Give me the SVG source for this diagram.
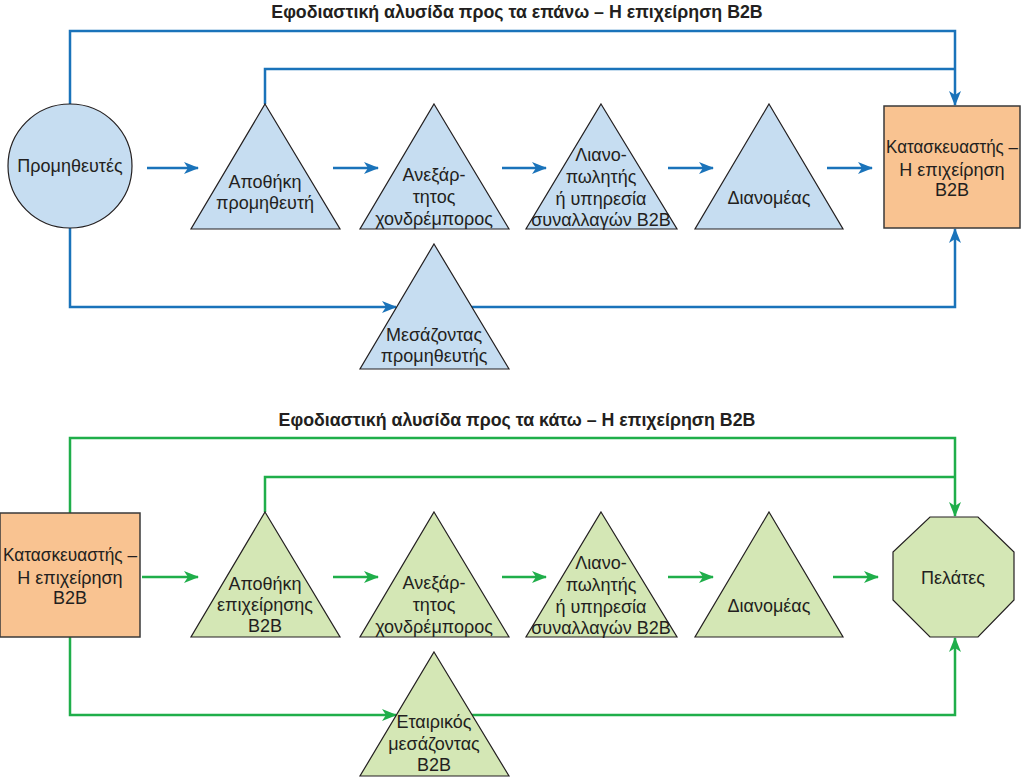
<svg xmlns="http://www.w3.org/2000/svg" width="1024" height="779" viewBox="0 0 1024 779">
<defs>
<style>
text{font-family:"Liberation Sans",Arial,sans-serif;font-size:18px;fill:#231f20;text-anchor:middle}
.title{font-weight:bold;font-size:17.8px}
.bshape{fill:#c6ddf1;stroke:#231f20;stroke-width:1.2}
.gshape{fill:#d4e7b5;stroke:#231f20;stroke-width:1.2}
.oshape{fill:#f9c391;stroke:#3a3a3a;stroke-width:1.5}
.bl{fill:none;stroke:#1a73ba;stroke-width:2.5}
.gl{fill:none;stroke:#1fae4a;stroke-width:2.5}
</style>
<marker id="ab" markerUnits="userSpaceOnUse" markerWidth="16" markerHeight="12" refX="14" refY="6" orient="auto">
<path d="M0,0 L15,6 L0,12 L4,6 z" fill="#1a73ba"/>
</marker>
<marker id="ag" markerUnits="userSpaceOnUse" markerWidth="16" markerHeight="12" refX="14" refY="6" orient="auto">
<path d="M0,0 L15,6 L0,12 L4,6 z" fill="#1fae4a"/>
</marker>
</defs>
<rect width="1024" height="779" fill="#ffffff"/>

<text class="title" x="517" y="18">Εφοδιαστική αλυσίδα προς τα επάνω – Η επιχείρηση B2B</text>
<text class="title" x="517" y="426">Εφοδιαστική αλυσίδα προς τα κάτω – Η επιχείρηση B2B</text>

<g id="connectors">
<path class="bl" d="M70,104 V31 H955 V105" marker-end="url(#ab)"/>
<path class="bl" d="M265,104 V69 H955"/>
<path class="bl" d="M70,228 V307 H396" marker-end="url(#ab)"/>
<path class="bl" d="M471,307 H955 V229" marker-end="url(#ab)"/>
<path class="bl" d="M147,168 H198" marker-end="url(#ab)"/>
<path class="bl" d="M333,168 H378" marker-end="url(#ab)"/>
<path class="bl" d="M502,168 H546" marker-end="url(#ab)"/>
<path class="bl" d="M668,168 H713" marker-end="url(#ab)"/>
<path class="bl" d="M827,168 H872" marker-end="url(#ab)"/>

<path class="gl" d="M70,513 V438 H955 V516" marker-end="url(#ag)"/>
<path class="gl" d="M265,512 V477 H955"/>
<path class="gl" d="M70,637 V715 H396" marker-end="url(#ag)"/>
<path class="gl" d="M472,715 H955 V638" marker-end="url(#ag)"/>
<path class="gl" d="M142,577 H198" marker-end="url(#ag)"/>
<path class="gl" d="M333,577 H378" marker-end="url(#ag)"/>
<path class="gl" d="M502,577 H546" marker-end="url(#ag)"/>
<path class="gl" d="M668,577 H713" marker-end="url(#ag)"/>
<path class="gl" d="M833,577 H878" marker-end="url(#ag)"/>
</g>

<g id="supplier">
<circle class="bshape" cx="70" cy="166" r="62"/>
<text x="70" y="172">Προμηθευτές</text>
</g>
<g id="supplier-warehouse">
<polygon class="bshape" points="265,104 340,229 191,229"/>
<text x="265" y="188">Αποθήκη</text>
<text x="265" y="209">προμηθευτή</text>
</g>
<g id="wholesaler-top">
<polygon class="bshape" points="434,104 509,229 360,229"/>
<text x="434" y="181">Ανεξάρ-</text>
<text x="434" y="203">τητος</text>
<text x="434" y="225">χονδρέμπορος</text>
</g>
<g id="retailer-top">
<polygon class="bshape" points="601,104 677,229 526,229"/>
<text x="601" y="161">Λιανο-</text>
<text x="601" y="183">πωλητής</text>
<text x="601" y="205">ή υπηρεσία</text>
<text x="601" y="226">συναλλαγών B2B</text>
</g>
<g id="distributor-top">
<polygon class="bshape" points="769,104 843,229 695,229"/>
<text x="769" y="204">Διανομέας</text>
</g>
<g id="manufacturer-top">
<rect class="oshape" x="884" y="106" width="136" height="122"/>
<text x="952" y="153" textLength="132" lengthAdjust="spacingAndGlyphs">Κατασκευαστής –</text>
<text x="952" y="176">Η επιχείρηση</text>
<text x="952" y="196">B2B</text>
</g>
<g id="supplier-broker">
<polygon class="bshape" points="434,244 509,369 360,369"/>
<text x="434" y="341">Μεσάζοντας</text>
<text x="434" y="362">προμηθευτής</text>
</g>

<g id="manufacturer-bottom">
<rect class="oshape" x="0" y="513" width="140" height="124"/>
<text x="70" y="561" textLength="134" lengthAdjust="spacingAndGlyphs">Κατασκευαστής –</text>
<text x="70" y="584">Η επιχείρηση</text>
<text x="70" y="604">B2B</text>
</g>
<g id="b2b-warehouse">
<polygon class="gshape" points="265,512 340,637 191,637"/>
<text x="265" y="590">Αποθήκη</text>
<text x="265" y="611">επιχείρησης</text>
<text x="265" y="632">B2B</text>
</g>
<g id="wholesaler-bottom">
<polygon class="gshape" points="434,512 509,637 360,637"/>
<text x="434" y="589">Ανεξάρ-</text>
<text x="434" y="611">τητος</text>
<text x="434" y="633">χονδρέμπορος</text>
</g>
<g id="retailer-bottom">
<polygon class="gshape" points="601,512 677,637 526,637"/>
<text x="601" y="569">Λιανο-</text>
<text x="601" y="591">πωλητής</text>
<text x="601" y="613">ή υπηρεσία</text>
<text x="601" y="634">συναλλαγών B2B</text>
</g>
<g id="distributor-bottom">
<polygon class="gshape" points="769,512 843,637 695,637"/>
<text x="769" y="612">Διανομέας</text>
</g>
<g id="customers">
<polygon class="gshape" points="930,517 978,517 1014,552 1014,600 978,637 930,637 893,600 893,552"/>
<text x="953" y="584">Πελάτες</text>
</g>
<g id="corporate-broker">
<polygon class="gshape" points="434,652 509,776 360,776"/>
<text x="434" y="728">Εταιρικός</text>
<text x="434" y="750">μεσάζοντας</text>
<text x="434" y="771">B2B</text>
</g>
</svg>
